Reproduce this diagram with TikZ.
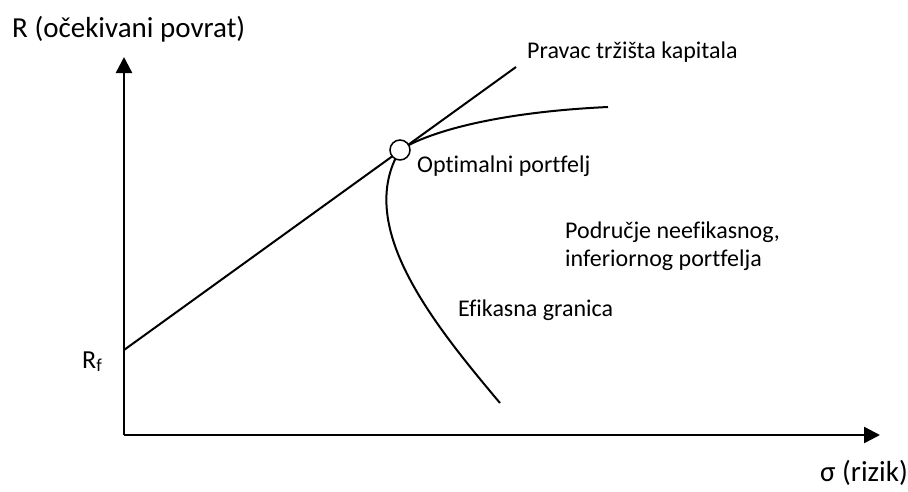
\documentclass[tikz,border=0pt]{standalone}
\usepackage{fontspec}
\setmainfont{Carlito}[RawFeature=-liga]
\usetikzlibrary{arrows.meta}
\tikzset{
	axis/.style={line width=2.5pt,-{Triangle[length=16pt,width=16pt]}},
	curve/.style={line width=2pt},
	lbl/.style={anchor=base west,inner sep=0pt,font=\fontsize{24}{29}\selectfont},
	axlbl/.style={lbl,font=\fontsize{29}{35}\selectfont}
}
\begin{document}
\begin{tikzpicture}[x=1pt,y=-1pt]
				      \useasboundingbox (0,0) rectangle (908,491);
				      \coordinate (o) at (124,435);
				      \coordinate (ytip) at (124,57);
				      \coordinate (xtip) at (880,435);
				      \coordinate (rf) at (124,350);
				      \coordinate (cml) at (516,67);
				      \coordinate (p) at (400,150);
				      \coordinate (low) at (500,403);
				      \coordinate (high) at (608,107);
				      \draw[axis] (o)--(ytip);
				      \draw[axis] (o)--(xtip);
				      \draw[curve] (rf)--(cml);
				      \draw[curve] (low) .. controls (430,320) and (355,225) .. (p) .. controls (430,131) and (500,112) .. (high);
				      \node (op)[circle,draw,line width=1.5pt,fill=white,minimum size=20pt,inner sep=0pt] at (p) {};
				      \node (ylbl)[axlbl] at (12,37) {R (očekivani povrat)};
				      \node (xlbl)[axlbl] at (820,481) {σ (rizik)};
				      \node (rflbl)[lbl,font=\fontsize{26}{31}\selectfont] at (82,368) {R\textsubscript{f}};
				      \node (cmllbl)[lbl] at (527,58) {Pravac tržišta kapitala};
				      \node (oplbl)[lbl] at (417,172) {Optimalni portfelj};
				      \node (ineffa)[lbl] at (565,238) {Područje neefikasnog,};
				      \node (ineffb)[lbl] at (565,266) {inferiornog portfelja};
				      \node (eff)[lbl] at (458,316) {Efikasna granica};
			      \end{tikzpicture}
\end{document}
